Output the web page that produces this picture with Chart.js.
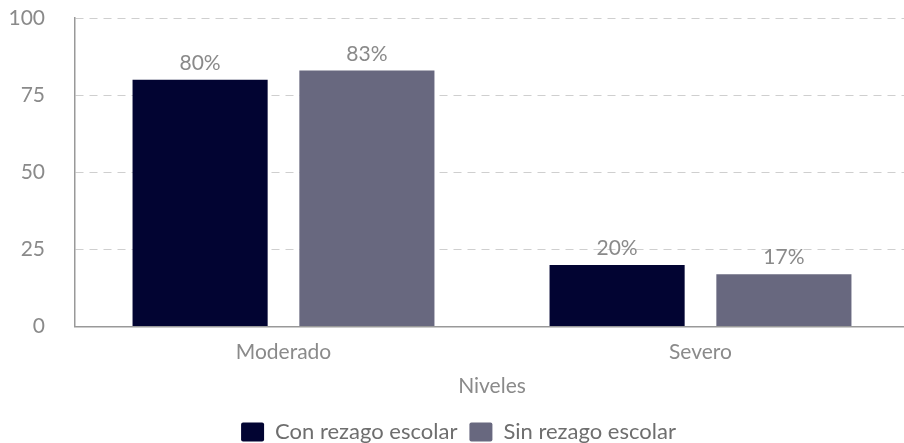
<!DOCTYPE html>
<html>
<head>
<meta charset="utf-8">
<script src="https://cdn.jsdelivr.net/npm/chart.js@4.4.1/dist/chart.umd.min.js"></script>
<style>
  html, body { margin: 0; padding: 0; background: #fff; overflow: hidden; }
  .chart-container { width: 909px; height: 443px; }
</style>
</head>
<body>
<div class="chart-container"><canvas id="myChart"></canvas></div>
<script>
const niveles = ["Moderado", "Severo"];
const conRezago = [80, 20];
const sinRezago = [83, 17];
const yTicks = [0, 25, 50, 75, 100];

const grey = "#8a8a8a";

// draws the "80%" style labels above each bar
const barLabels = {
  id: "barLabels",
  afterDatasetsDraw(chart) {
    const ctx = chart.ctx;
    ctx.save();
    ctx.font = "21px Lato";
    ctx.fillStyle = grey;
    ctx.textAlign = "center";
    ctx.textBaseline = "bottom";
    chart.data.datasets.forEach((ds, i) => {
      chart.getDatasetMeta(i).data.forEach((bar, j) => {
        ctx.fillText(ds.data[j] + "%", bar.x, bar.y - 6);
      });
    });
    ctx.restore();
  },
};

const data = {
  labels: niveles,
  datasets: [
    {
      label: "Con rezago escolar",
      data: conRezago,
      backgroundColor: "#020432",
    },
    {
      label: "Sin rezago escolar",
      data: sinRezago,
      backgroundColor: "#68687f",
    },
  ],
};

const config = {
  type: "bar",
  data: data,
  plugins: [barLabels],
  options: {
    responsive: true,
    maintainAspectRatio: false,
    animation: false,
    categoryPercentage: 0.8,
    barPercentage: 0.81,
    layout: { padding: { top: 0, left: 8, right: 0, bottom: -10 } },
    plugins: {
      tooltip: { enabled: false },
      legend: {
        position: "bottom",
        labels: {
          color: "#6e6e6e",
          font: { family: "Lato", size: 22 },
          boxWidth: 23,
          boxHeight: 19,
          padding: 12,
          useBorderRadius: true,
          borderRadius: 2,
        },
      },
    },
    scales: {
      x: {
        grid: { display: false },
        border: { display: true, color: "#999", width: 1.5 },
        ticks: { color: grey, font: { family: "Lato", size: 21 }, padding: 5 },
        title: {
          display: true,
          text: "Niveles",
          color: grey,
          font: { family: "Lato", size: 21 },
          padding: { top: 4, bottom: 10 },
        },
      },
      y: {
        min: 0,
        max: 100,
        afterBuildTicks: (axis) => {
          axis.ticks = yTicks.map((v) => ({ value: v }));
        },
        afterFit: (axis) => {
          axis.width = 67;
          axis.paddingTop = 18;
          axis.paddingBottom = 10;
        },
        grid: { color: "#cfcfcf", drawTicks: false, lineWidth: 1 },
        border: { display: true, color: "#999", width: 1.5, dash: [8, 6] },
        ticks: { color: grey, font: { family: "Lato", size: 21 }, padding: 30 },
      },
    },
  },
};

new Chart(document.getElementById("myChart"), config);
</script>
</body>
</html>
